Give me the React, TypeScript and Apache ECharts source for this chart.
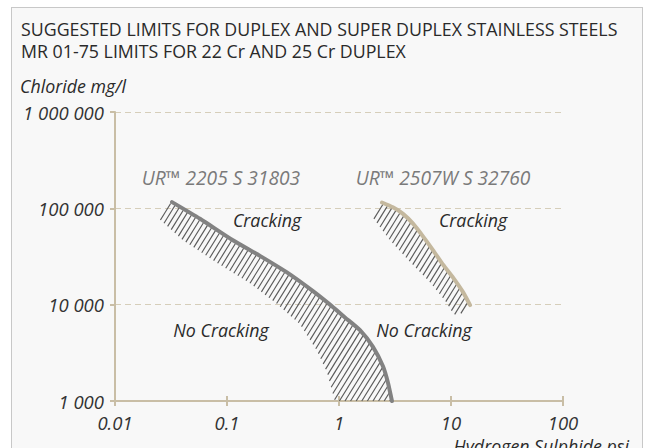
import React, { useEffect, useRef } from 'react';
import * as echarts from 'echarts';

// Tick labels
const xTickLabels = ['0.01', '0.1', '1', '10', '100'];
const yTickLabels = ['1 000', '10 000', '100 000', '1 000 000'];

// [H2S psi, chloride mg/l]
const ur2205Limit = [
  [0.0323, 116000], [0.0574, 77900], [0.113, 46600], [0.197, 32100],
  [0.343, 21600], [0.586, 13800], [0.831, 10000], [1.13, 7370],
  [1.54, 5430], [2.01, 3650], [2.47, 2290], [2.74, 1540], [2.97, 1000],
];
const ur2205HatchEdge = [
  [0.0237, 81600], [0.0405, 46600], [0.0814, 27200], [0.1605, 16700],
  [0.2795, 10200], [0.449, 6250], [0.636, 3330], [0.782, 1990], [0.92, 1000],
];
const ur2507Limit = [
  [2.42, 115000], [3.03, 102400], [3.73, 87500], [4.58, 69300],
  [5.62, 51200], [6.9, 36900], [8.49, 26000], [10.4, 19200],
  [12.8, 13500], [14.8, 9900],
];
const ur2507HatchEdge = [
  [1.93, 85500], [2.85, 46600], [4.3, 27900], [6.49, 17100],
  [9.02, 10700], [10.6, 7900], [13.6, 8280],
];

const FONT = '"Open Sans", "Noto Sans", sans-serif';
const TAN = '#c9bea6';

function hatchRenderer(upper: number[][], lower: number[][]) {
  return (_params: any, api: any) => {
    const pts: number[][] = [
      ...upper.map((p) => api.coord(p)),
      ...lower.slice().reverse().map((p) => api.coord(p)),
    ];
    const k = 0.62;
    const spacing = 5.6;
    let cmin = Infinity;
    let cmax = -Infinity;
    pts.forEach(([x, y]) => {
      const c = x + k * y;
      if (c < cmin) cmin = c;
      if (c > cmax) cmax = c;
    });
    const children: any[] = [];
    for (let c = Math.ceil(cmin / spacing) * spacing; c <= cmax; c += spacing) {
      const hits: number[][] = [];
      for (let i = 0; i < pts.length; i++) {
        const a = pts[i];
        const b = pts[(i + 1) % pts.length];
        const fa = a[0] + k * a[1] - c;
        const fb = b[0] + k * b[1] - c;
        if ((fa <= 0 && fb > 0) || (fa > 0 && fb <= 0)) {
          const t = fa / (fa - fb);
          hits.push([a[0] + t * (b[0] - a[0]), a[1] + t * (b[1] - a[1])]);
        }
      }
      hits.sort((p, q) => p[1] - q[1]);
      for (let j = 0; j + 1 < hits.length; j += 2) {
        children.push({
          type: 'line',
          shape: { x1: hits[j][0], y1: hits[j][1], x2: hits[j + 1][0], y2: hits[j + 1][1] },
          style: { stroke: '#5a5a5a', lineWidth: 1.15 },
        });
      }
    }
    return { type: 'group', children };
  };
}

function txt(text: string, x: number, y: number, opts: any = {}) {
  return {
    type: 'text',
    x,
    y,
    style: {
      text,
      fill: opts.fill || '#2a2a2a',
      fontSize: opts.fontSize || 17.8,
      lineHeight: opts.lineHeight || 20,
      fontFamily: FONT,
      fontStyle: opts.italic ? 'italic' : 'normal',
      align: opts.align || 'left',
      verticalAlign: 'middle',
      textAlign: opts.align || 'left',
      textVerticalAlign: 'middle',
    },
  };
}

export default function App() {
  const ref = useRef<HTMLDivElement>(null);
  useEffect(() => {
    if (!ref.current) return;
    const chart = echarts.init(ref.current, null, { renderer: 'svg' });
    const xLabel = (v: number) => xTickLabels[Math.round(Math.log10(v)) + 2] ?? '';
    const yLabel = (v: number) => yTickLabels[Math.round(Math.log10(v)) - 3] ?? '';
    const labelStyle = {
      color: '#333',
      fontSize: 18.5,
      fontStyle: 'italic',
      fontFamily: FONT,
    };
    chart.setOption({
      animation: false,
      backgroundColor: 'transparent',
      grid: { left: 115, right: 83, top: 112, bottom: 47 },
      xAxis: [
        {
          type: 'log',
          logBase: 10,
          min: 0.01,
          max: 100,
          axisLine: { show: true, lineStyle: { color: TAN, width: 2 } },
          axisTick: { show: true, length: 5, lineStyle: { color: TAN, width: 2 } },
          axisLabel: { ...labelStyle, margin: 12, formatter: xLabel },
          splitLine: { show: false },
          minorTick: { show: false },
        },
        {
          type: 'log',
          logBase: 10,
          min: 0.01,
          max: 100,
          position: 'bottom',
          axisLine: { show: false },
          axisTick: { show: true, inside: true, length: 5, lineStyle: { color: TAN, width: 2 } },
          axisLabel: { show: false },
          splitLine: { show: false },
        },
      ],
      yAxis: {
        type: 'log',
        logBase: 10,
        min: 1000,
        max: 1000000,
        axisLine: { show: true, lineStyle: { color: TAN, width: 2 } },
        axisTick: { show: true, length: 5, lineStyle: { color: TAN, width: 2 } },
        axisLabel: { ...labelStyle, margin: 11, formatter: yLabel },
        splitLine: { show: true, lineStyle: { color: '#d6ceba', type: [6, 4], width: 1.2 } },
      },
      graphic: [
        txt('SUGGESTED LIMITS FOR DUPLEX AND SUPER DUPLEX STAINLESS STEELS', 21, 29),
        txt('MR 01-75 LIMITS FOR 22 Cr AND 25 Cr DUPLEX', 21, 51),
        txt('Chloride mg/l', 20, 86, { italic: true }),
        txt('Hydrogen Sulphide psi', 629, 446, { italic: true, align: 'right' }),
        txt('UR™ 2205 S 31803', 221, 177, { italic: true, align: 'center', fill: '#7a7a7a', fontSize: 19.2 }),
        txt('UR™ 2507W S 32760', 443, 177, { italic: true, align: 'center', fill: '#7a7a7a', fontSize: 19.2 }),
        txt('Cracking', 267, 220, { italic: true, align: 'center' }),
        txt('Cracking', 473, 220, { italic: true, align: 'center' }),
        txt('No Cracking', 221, 330, { italic: true, align: 'center' }),
        txt('No Cracking', 424, 330, { italic: true, align: 'center' }),
      ],
      series: [
        {
          type: 'custom',
          name: 'UR 2205 hatch',
          coordinateSystem: 'cartesian2d',
          data: [[1, 10000]],
          renderItem: hatchRenderer(ur2205Limit, ur2205HatchEdge),
          silent: true,
          z: 1,
        },
        {
          type: 'custom',
          name: 'UR 2507W hatch',
          coordinateSystem: 'cartesian2d',
          data: [[5, 30000]],
          renderItem: hatchRenderer(ur2507Limit, ur2507HatchEdge),
          silent: true,
          z: 1,
        },
        {
          type: 'line',
          name: 'UR™ 2205 S 31803',
          data: ur2205Limit,
          smooth: 0.2,
          symbol: 'none',
          lineStyle: { color: '#828282', width: 4, cap: 'round' },
          z: 3,
        },
        {
          type: 'line',
          name: 'UR™ 2507W S 32760',
          data: ur2507Limit,
          smooth: 0.2,
          symbol: 'none',
          lineStyle: { color: '#c4b89e', width: 4, cap: 'round' },
          z: 3,
        },
      ],
    });
    return () => chart.dispose();
  }, []);

  return (
    <div style={{ position: 'fixed', left: 0, top: 0, width: 646, height: 448, background: '#fff', overflow: 'hidden' }}>
      <div
        style={{
          position: 'absolute',
          left: 11,
          top: 7,
          width: 632,
          height: 470,
          border: '1.5px solid #c8c8c8',
          background: '#f8f8f8',
          boxSizing: 'border-box',
        }}
      />
      <div ref={ref} style={{ position: 'absolute', left: 0, top: 0, width: 646, height: 448 }} />
    </div>
  );
}
